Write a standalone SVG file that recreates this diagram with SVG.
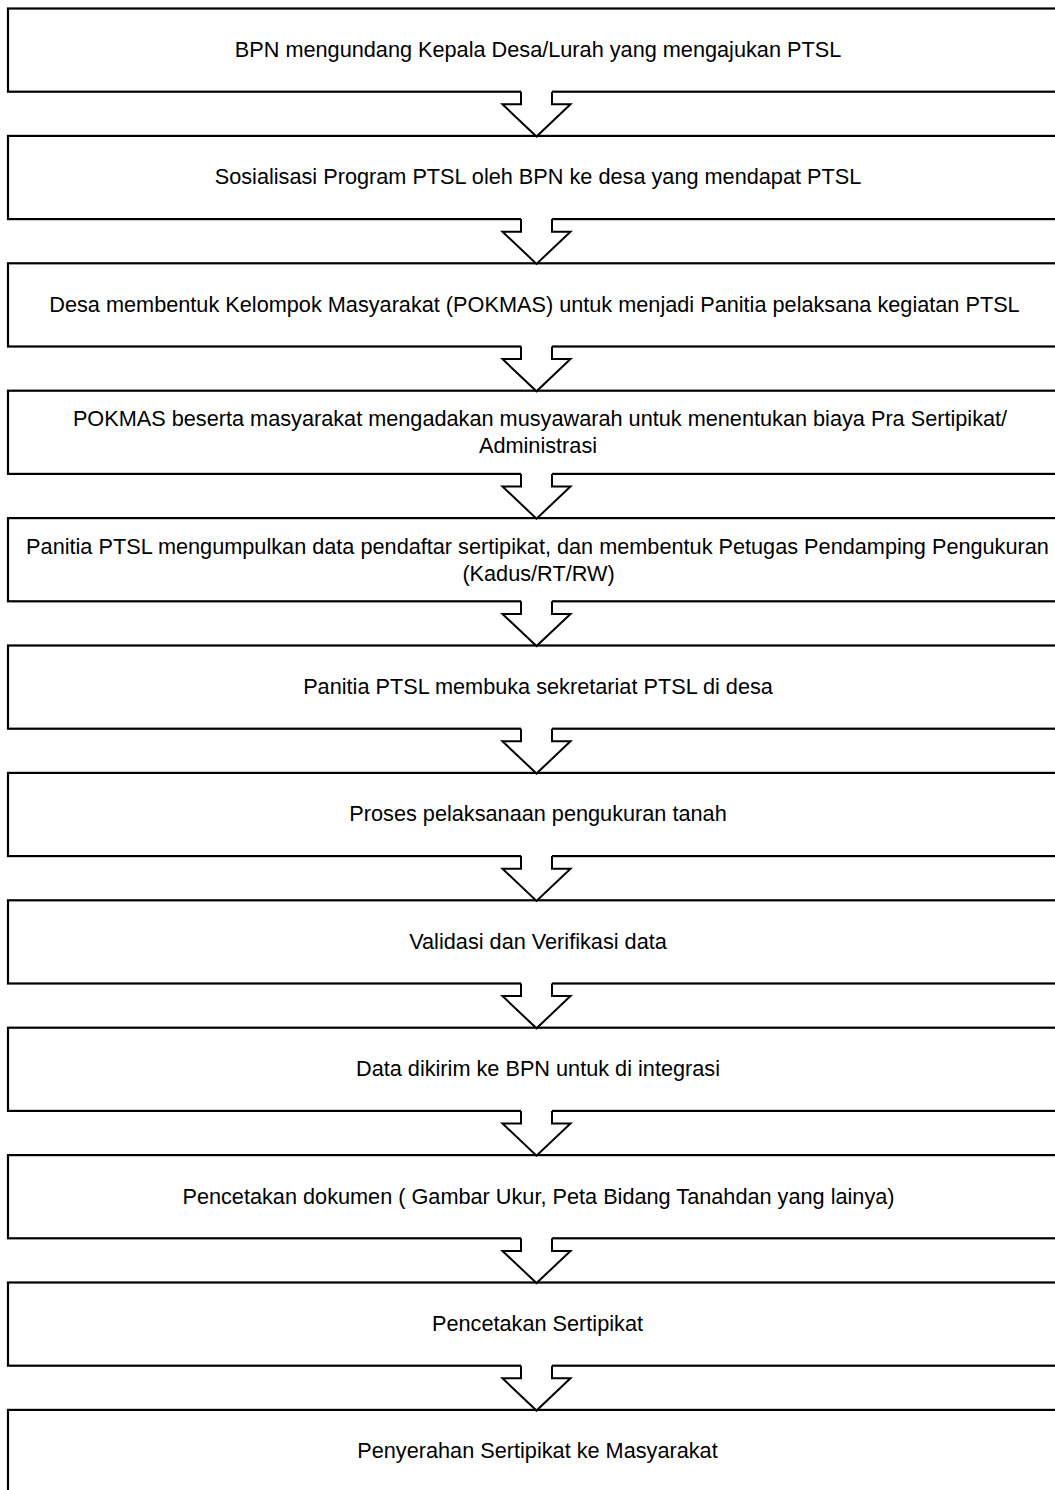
<svg xmlns="http://www.w3.org/2000/svg" xmlns:xlink="http://www.w3.org/1999/xlink" width="1055" height="1490" viewBox="0 0 1055 1490">
<style>
.box{fill:#fff;stroke:#000;stroke-width:2.2}
.t{font-family:"Liberation Sans",Arial,sans-serif;font-size:21.7px;fill:#000;text-anchor:middle}
.af{fill:#fff;stroke:none}
.as{fill:none;stroke:#000;stroke-width:2;stroke-linejoin:miter}
</style>
<defs>
<g id="arr">
<polygon class="af" points="-15.5,-2 -15.5,12.6 -34,12.6 0,44.5 34,12.6 15.5,12.6 15.5,-2"/>
<polyline class="as" points="-15.5,0 -15.5,12.6 -34,12.6 0,44.8 34,12.6 15.5,12.6 15.5,0"/>
</g>
</defs>
<rect width="1055" height="1490" fill="#fff"/>
<g id="n1"><rect class="box" x="8" y="8.5" width="1070" height="83.2"/><text class="t" x="538" y="57">BPN mengundang Kepala Desa/Lurah yang mengajukan PTSL</text></g>
<g id="n2"><rect class="box" x="8" y="135.9" width="1070" height="83.2"/><text class="t" x="538" y="184.4">Sosialisasi Program PTSL oleh BPN ke desa yang mendapat PTSL</text></g>
<g id="n3"><rect class="box" x="8" y="263.3" width="1070" height="83.2"/><text class="t" x="534.5" y="311.8">Desa membentuk Kelompok Masyarakat (POKMAS) untuk menjadi Panitia pelaksana kegiatan PTSL</text></g>
<g id="n4"><rect class="box" x="8" y="390.7" width="1070" height="83.2"/><text class="t" x="540" y="426">POKMAS beserta masyarakat mengadakan musyawarah untuk menentukan biaya Pra Sertipikat/</text><text class="t" x="538" y="453">Administrasi</text></g>
<g id="n5"><rect class="box" x="8" y="518.1" width="1070" height="83.2"/><text class="t" x="537.5" y="554">Panitia PTSL mengumpulkan data pendaftar sertipikat, dan membentuk Petugas Pendamping Pengukuran</text><text class="t" x="538.5" y="581">(Kadus/RT/RW)</text></g>
<g id="n6"><rect class="box" x="8" y="645.5" width="1070" height="83.2"/><text class="t" x="538" y="694">Panitia PTSL membuka sekretariat PTSL di desa</text></g>
<g id="n7"><rect class="box" x="8" y="772.9" width="1070" height="83.2"/><text class="t" x="538" y="821.4">Proses pelaksanaan pengukuran tanah</text></g>
<g id="n8"><rect class="box" x="8" y="900.3" width="1070" height="83.2"/><text class="t" x="538" y="948.8">Validasi dan Verifikasi data</text></g>
<g id="n9"><rect class="box" x="8" y="1027.7" width="1070" height="83.2"/><text class="t" x="538" y="1076.2">Data dikirim ke BPN untuk di integrasi</text></g>
<g id="n10"><rect class="box" x="8" y="1155.1" width="1070" height="83.2"/><text class="t" x="538.5" y="1203.6">Pencetakan dokumen ( Gambar Ukur, Peta Bidang Tanahdan yang lainya)</text></g>
<g id="n11"><rect class="box" x="8" y="1282.5" width="1070" height="83.2"/><text class="t" x="537.5" y="1331">Pencetakan Sertipikat</text></g>
<g id="n12"><rect class="box" x="8" y="1409.9" width="1070" height="83.2"/><text class="t" x="537.5" y="1458.4">Penyerahan Sertipikat ke Masyarakat</text></g>
<g id="connectors">
<use xlink:href="#arr" x="536.5" y="91.7"/>
<use xlink:href="#arr" x="536.5" y="219.1"/>
<use xlink:href="#arr" x="536.5" y="346.5"/>
<use xlink:href="#arr" x="536.5" y="473.9"/>
<use xlink:href="#arr" x="536.5" y="601.3"/>
<use xlink:href="#arr" x="536.5" y="728.7"/>
<use xlink:href="#arr" x="536.5" y="856.1"/>
<use xlink:href="#arr" x="536.5" y="983.5"/>
<use xlink:href="#arr" x="536.5" y="1110.9"/>
<use xlink:href="#arr" x="536.5" y="1238.3"/>
<use xlink:href="#arr" x="536.5" y="1365.7"/>
</g>
</svg>
